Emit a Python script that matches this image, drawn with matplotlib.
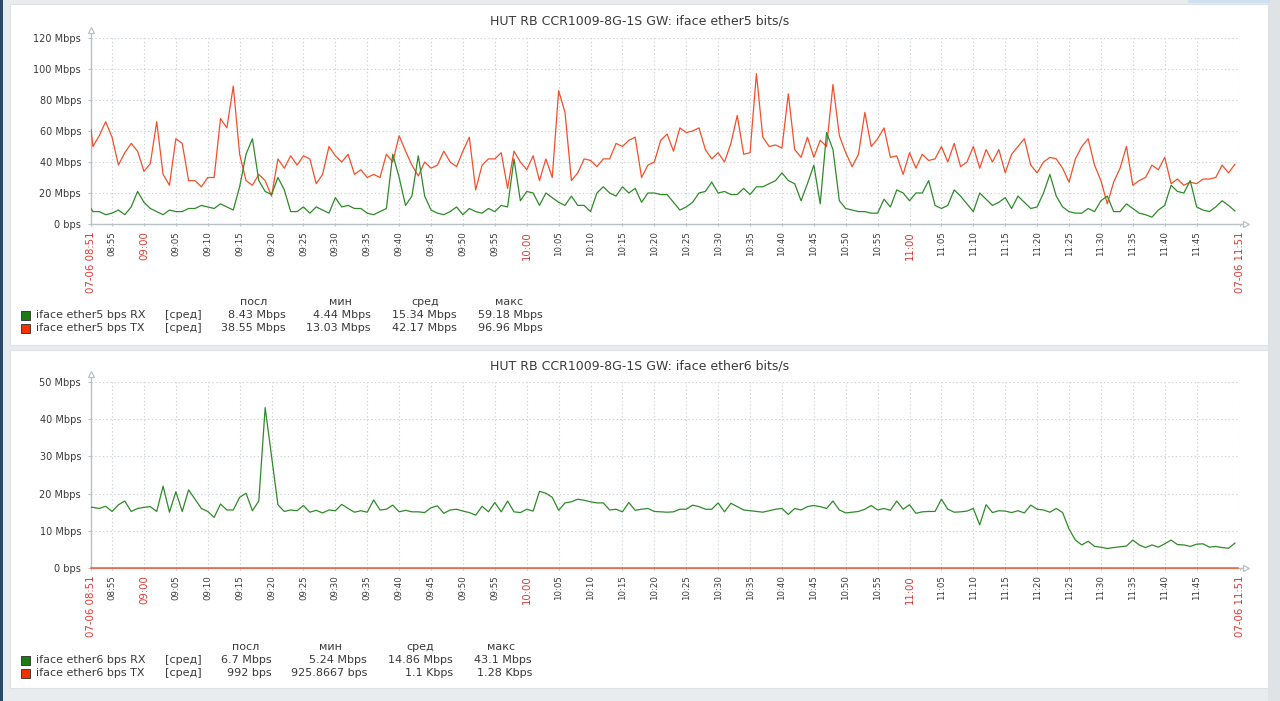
import numpy as np
import matplotlib
matplotlib.use("Agg")
import matplotlib.pyplot as plt
from matplotlib.patches import Rectangle

# ---------------- data (minutes after 08:00, values in Mbps) ----------------
t_start, t_end = 51.7, 231.8          # 07-06 08:51 ... 07-06 11:51
minutes = np.concatenate(([t_start], np.arange(52, 232)))

rx5 = [10, 8, 8, 6, 7, 9, 6, 11, 21, 14, 10,
       8, 6, 9, 8, 8, 10, 10, 12, 11, 10,
       13, 11, 9, 24, 45, 55, 28, 21, 19, 30,
       22, 8, 8, 11, 7, 11, 9, 7, 17, 11,
       12, 10, 10, 7, 6, 8, 10, 45, 30, 12,
       18, 44, 18, 9, 7, 6, 8, 11, 6, 10,
       8, 7, 10, 8, 12, 11, 42, 15, 21, 20,
       12, 20, 17, 14, 12, 18, 12, 12, 8, 20,
       24, 20, 18, 24, 20, 23, 14, 20, 20, 19,
       19, 14, 9, 11, 14, 20, 21, 27, 20, 21,
       19, 19, 23, 19, 24, 24, 26, 28, 33, 28,
       26, 15, 26, 38, 13, 59, 48, 15, 10, 9,
       8, 8, 7, 7, 16, 11, 22, 20, 15, 20,
       20, 28, 12, 10, 12, 22, 18, 13, 8, 20,
       16, 12, 14, 17, 10, 18, 14, 10, 11, 20,
       32, 18, 11, 8, 7, 7, 10, 8, 15, 18,
       8, 8, 13, 10, 7, 6, 4.4, 9, 12, 25,
       21, 20, 28, 11, 9, 8, 11, 15, 12, 8.43]

tx5 = [61, 50, 57, 66, 56, 38, 46, 52, 47, 34, 39,
       66, 32, 25, 55, 52, 28, 28, 24, 30, 30,
       68, 62, 89, 45, 28, 25, 32, 28, 18, 42,
       36, 44, 38, 44, 42, 26, 32, 50, 44, 40,
       45, 32, 35, 30, 32, 30, 45, 40, 57, 47,
       38, 31, 40, 36, 38, 47, 40, 37, 47, 56,
       22, 38, 42, 42, 46, 23, 47, 40, 35, 44,
       28, 42, 30, 86, 72, 28, 33, 42, 41, 37,
       42, 42, 52, 50, 54, 56, 30, 38, 40, 54,
       58, 47, 62, 59, 60, 62, 48, 42, 46, 40,
       52, 70, 45, 46, 97, 56, 50, 51, 49, 84,
       48, 43, 56, 43, 54, 50, 90, 57, 46, 37,
       45, 72, 50, 55, 62, 43, 44, 32, 46, 36,
       45, 41, 42, 50, 40, 52, 37, 40, 50, 36,
       48, 40, 48, 33, 45, 50, 55, 38, 33, 40,
       43, 42, 36, 27, 42, 50, 55, 38, 28, 13,
       27, 36, 50, 25, 28, 30, 38, 35, 43, 26,
       29, 25, 27, 26, 29, 29, 30, 38, 33, 38.55]

rx6 = [16.3, 16.3, 16.0, 16.6, 15.2, 17.0, 18.0, 15.2, 16.0, 16.3, 16.5,
       15.2, 22.0, 15.0, 20.5, 15.2, 21.0, 18.5, 16.0, 15.2, 13.6,
       17.2, 15.6, 15.6, 19.0, 20.1, 15.4, 18.0, 43.1, 30.0, 17.0,
       15.2, 15.6, 15.4, 16.8, 15.0, 15.5, 14.8, 15.6, 15.4, 17.1,
       16.0, 15.0, 15.4, 15.0, 18.3, 15.6, 15.8, 16.9, 15.1, 15.5,
       15.1, 15.1, 14.9, 16.2, 16.7, 14.7, 15.6, 15.8, 15.3, 14.9,
       14.2, 16.6, 15.1, 17.6, 15.1, 18.0, 15.1, 14.9, 15.8, 15.3,
       20.6, 20.1, 19.0, 15.5, 17.5, 17.8, 18.5, 18.2, 17.8, 17.5,
       17.5, 15.6, 15.8, 15.1, 17.6, 15.5, 15.8, 16.0, 15.2, 15.1,
       15.0, 15.1, 15.8, 15.8, 16.9, 16.5, 15.8, 15.8, 17.5, 15.1,
       17.4, 16.5, 15.6, 15.4, 15.2, 15.0, 15.4, 15.8, 16.0, 14.4,
       16.0, 15.6, 16.5, 16.8, 16.5, 16.0, 18.0, 15.6, 14.8, 15.0,
       15.2, 15.8, 16.8, 15.6, 16.0, 15.5, 18.0, 15.8, 17.0, 14.7,
       15.1, 15.2, 15.2, 18.5, 15.8, 15.0, 15.1, 15.3, 16.0, 11.6,
       17.0, 14.9, 15.4, 15.3, 14.9, 15.4, 14.8, 16.9, 15.8, 15.6,
       15.0, 16.0, 14.9, 10.5, 7.5, 6.2, 7.2, 5.8, 5.6, 5.24,
       5.5, 5.7, 5.9, 7.5, 6.2, 5.5, 6.2, 5.6, 6.5, 7.5,
       6.3, 6.2, 5.8, 6.4, 6.5, 5.6, 5.8, 5.5, 5.3, 6.7]

# ether6 TX is ~1 Kbps (sampled every 10 min here)
tx6_minutes = [51.7, 60, 70, 80, 90, 100, 110, 120, 130, 140, 150,
               160, 170, 180, 190, 200, 210, 220, 230, 231.5]
tx6_kbps = [1.1, 1.05, 1.2, 1.1, 0.99, 1.28, 1.1, 1.0, 1.15, 1.05, 1.1,
            0.93, 1.2, 1.1, 1.0, 1.1, 1.05, 1.2, 1.1, 0.992]

titles = ["HUT RB CCR1009-8G-1S GW: iface ether5 bits/s",
          "HUT RB CCR1009-8G-1S GW: iface ether6 bits/s"]
legend_names = [["iface ether5 bps RX", "iface ether5 bps TX"],
                ["iface ether6 bps RX", "iface ether6 bps TX"]]
legend_headers = ["посл", "мин", "сред", "макс"]
legend_vals = [[["8.43 Mbps", "4.44 Mbps", "15.34 Mbps", "59.18 Mbps"],
                ["38.55 Mbps", "13.03 Mbps", "42.17 Mbps", "96.96 Mbps"]],
               [["6.7 Mbps", "5.24 Mbps", "14.86 Mbps", "43.1 Mbps"],
                ["992 bps", "925.8667 bps", "1.1 Kbps", "1.28 Kbps"]]]
y_ticks = [[0, 20, 40, 60, 80, 100, 120], [0, 10, 20, 30, 40, 50]]

# ---------------- styling ----------------
W, H = 1280, 701
GREEN_LINE, RED_LINE = "#2f8a2a", "#f2502a"
GREEN_BOX, RED_BOX = "#1A7C11", "#F63100"
AXIS_C = "#b9c0c6"
GRID_C = "#cdd3d8"
TXT_C = "#3a3a3a"
RED_TXT = "#d83a34"

fig = plt.figure(figsize=(W / 100, H / 100), dpi=100)
fig.patch.set_facecolor("#e9ecee")
bg = fig.add_axes([0, 0, 1, 1])
bg.set_xlim(0, W)
bg.set_ylim(H, 0)
bg.axis("off")

# page decoration
bg.add_patch(Rectangle((0, 0), 3, H, fc="#2b4a66", ec="none"))
bg.add_patch(Rectangle((1268, 0), 12, H, fc="#dfe3e6", ec="none"))
bg.add_patch(Rectangle((1188, 0), 82, 3, fc="#cfe1f0", ec="none"))
bg.add_patch(Rectangle((10, 4), 1258, 341, fc="white", ec="#dde2e6", lw=0.8))
bg.add_patch(Rectangle((10, 350), 1258, 338, fc="white", ec="#dde2e6", lw=0.8))


def px_axes(x0, y0, x1, y1):
    return fig.add_axes([x0 / W, 1 - y1 / H, (x1 - x0) / W, (y1 - y0) / H])


def fmt_min(m):
    h = int(m // 60) + 8
    mm = int(round(m % 60))
    return f"{h:02d}:{mm:02d}"


def style_axes(ax, yt, ymax):
    ax.set_facecolor("none")
    ax.set_xlim(t_start, t_end)
    ax.set_ylim(0, ymax)
    for s in ax.spines.values():
        s.set_visible(False)
    major = list(range(55, 230, 5))
    ticks = [t_start] + major + [t_end]
    labels = ["07-06 08:51"] + [fmt_min(m) for m in major] + ["07-06 11:51"]
    ax.set_xticks(ticks)
    ax.set_xticklabels(labels, rotation=90)
    for lbl, m in zip(ax.get_xticklabels(), ticks):
        if m in (t_start, t_end) or m % 60 == 0:
            lbl.set_color(RED_TXT)
            lbl.set_fontsize(7.3)
        else:
            lbl.set_color(TXT_C)
            lbl.set_fontsize(6.2)
    ax.tick_params(axis="x", length=1.5, pad=3.6, color=AXIS_C)
    ax.set_yticks(yt)
    ax.set_yticklabels(["0 bps"] + [f"{v} Mbps" for v in yt[1:]],
                       fontsize=7, color=TXT_C)
    ax.tick_params(axis="y", length=2.2, pad=5, color=AXIS_C)
    ax.grid(True, color=GRID_C, linestyle=(0, (1.2, 2.2)), lw=0.8)
    ax.set_axisbelow(True)
    # axis lines with arrows
    ax.plot([0, 0], [0, 1.043], transform=ax.transAxes, color=AXIS_C,
            lw=1.0, clip_on=False, zorder=3)
    ax.plot([0, 1.0055], [0, 0], transform=ax.transAxes, color=AXIS_C,
            lw=1.0, clip_on=False, zorder=3)
    ax.plot([0], [1.043], marker="^", ms=5, mfc="white", mec=AXIS_C,
            mew=0.9, transform=ax.transAxes, clip_on=False, zorder=4)
    ax.plot([1.0055], [0], marker=">", ms=5, mfc="white", mec=AXIS_C,
            mew=0.9, transform=ax.transAxes, clip_on=False, zorder=4)


# ---------------- panel 1 ----------------
ax1 = px_axes(91, 38, 1240, 224)
style_axes(ax1, y_ticks[0], 120)
ax1.plot(minutes, tx5, color=RED_LINE, lw=0.9, zorder=5)
ax1.plot(minutes, rx5, color=GREEN_LINE, lw=0.9, zorder=6)

# ---------------- panel 2 ----------------
ax2 = px_axes(91, 382, 1240, 568)
style_axes(ax2, y_ticks[1], 50)
ax2.plot(minutes, rx6, color=GREEN_LINE, lw=0.9, zorder=6)
ax2.plot(tx6_minutes, np.array(tx6_kbps) / 1000.0, color=RED_LINE, lw=1.0,
         zorder=5, clip_on=False)

# ---------------- titles & legends ----------------
bg.text(640, 21, titles[0], ha="center", va="center", fontsize=9, color=TXT_C)
bg.text(640, 366, titles[1], ha="center", va="center", fontsize=9, color=TXT_C)

legend_layout = [
    dict(header_y=302, rows_y=[315, 328], hdr_x=[254, 340, 425, 509],
         val_x=[286, 371, 457, 543]),
    dict(header_y=647, rows_y=[660, 673], hdr_x=[246, 330, 420, 501],
         val_x=[272, 367, 453, 532]),
]
box_cols = [GREEN_BOX, RED_BOX]
for p, lay in enumerate(legend_layout):
    for hx, htxt in zip(lay["hdr_x"], legend_headers):
        bg.text(hx, lay["header_y"], htxt, ha="center", va="center",
                fontsize=8, color=TXT_C)
    for r, ry in enumerate(lay["rows_y"]):
        bg.add_patch(Rectangle((21, ry - 4.5), 9, 9, fc=box_cols[r],
                               ec="#2b2b2b", lw=0.6))
        bg.text(36, ry, legend_names[p][r], ha="left", va="center",
                fontsize=8, color=TXT_C)
        bg.text(165, ry, "[сред]", ha="left", va="center", fontsize=8,
                color=TXT_C)
        for vx, vtxt in zip(lay["val_x"], legend_vals[p][r]):
            bg.text(vx, ry, vtxt, ha="right", va="center", fontsize=8,
                    color=TXT_C)

fig.savefig("out.png", dpi=100, facecolor=fig.get_facecolor())
